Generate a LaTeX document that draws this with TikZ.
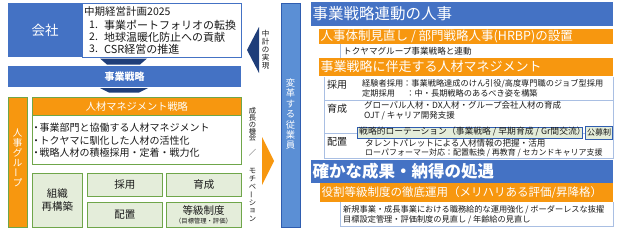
\documentclass[tikz,border=0pt]{standalone}
\usepackage{fontspec}
\setmainfont{Noto Sans CJK JP}
\definecolor{cblue}{HTML}{4472C4}
\definecolor{cblue2}{HTML}{2F5DB0}
\definecolor{clblue}{HTML}{5B8FD5}
\definecolor{cdark}{HTML}{1F3E79}
\definecolor{corange}{HTML}{F7970F}
\definecolor{cgreen}{HTML}{6FA64A}
\definecolor{cgfill}{HTML}{E4EDDA}
\definecolor{ctline}{HTML}{A9BFE3}
\definecolor{ctext}{HTML}{1A1A1A}
\newcommand\fsz[1]{\fontsize{#1}{#1}\selectfont}
\tikzset{
  box/.style={anchor=north west, inner sep=0pt},
  bluebox/.style={box, fill=cblue, text=white},
  greenbox/.style={box, fill=cgfill, draw=cgreen, line width=0.9pt, text=ctext, align=center},
  txt/.style={anchor=west, inner sep=0pt, text=ctext},
  wtxt/.style={anchor=west, inner sep=0pt, text=white},
  tline/.style={draw=ctline, line width=0.7pt}
}
\begin{document}
\begin{tikzpicture}[x=1pt,y=-1pt]
\useasboundingbox (0,0) rectangle (619,244);
% ---------------- left block ----------------
\node[bluebox, minimum width=74pt, minimum height=54pt] (kaisha) at (8,3) {\fsz{13.5}会社};
\node[box, draw=cblue, line width=0.8pt, fill=white, minimum width=159pt, minimum height=54pt] (plan) at (82,3) {};
\node[txt] (plant) at (84,12) {\fsz{10.5}中期経営計画2025};
\node[txt] (p1n) at (89,25) {\fsz{10.5}1.};
\node[txt] (p1) at (104,25) {\fsz{11}事業ポートフォリオの転換};
\node[txt] (p2n) at (89,37) {\fsz{10.5}2.};
\node[txt] (p2) at (104,37) {\fsz{11}地球温暖化防止への貢献};
\node[txt] (p3n) at (89,49) {\fsz{10.5}3.};
\node[txt] (p3) at (104,49) {\fsz{11}CSR経営の推進};
\fill[cdark] (100,58.5) -- (147,58.5) -- (140,64.5) -- (107,64.5) -- cycle;
\node[bluebox, minimum width=233pt, minimum height=21pt] (jigyo) at (8,66) {\fsz{10}\bfseries 事業戦略};
\fill[cdark] (100,88) -- (148,88) -- (139,92.5) -- (109,92.5) -- cycle;
\node[box, fill=corange, draw=cgreen, line width=0.8pt, minimum width=19pt, minimum height=130pt] (hrg) at (8,97) {};
\foreach \c [count=\i] in {人,事,グ,ル,{\rotatebox{90}{ー}},プ}
  \node[text=white, inner sep=0pt, font=\fsz{9.5}] (hg\i) at (17.5,123+\i*10) {\c};
\node[box, fill=corange, draw=cgreen, line width=0.8pt, text=white, minimum width=209pt, minimum height=18pt] (hrm) at (32,97) {\fsz{10.2}人材マネジメント戦略};
\node[box, fill=white, draw=cgreen, line width=0.8pt, minimum width=209pt, minimum height=49pt] (hrmb) at (32,115) {};
\node[txt] (b1) at (31,128) {\fsz{10}・\hspace{-1.5pt}事業部門と協働する人材マネジメント};
\node[txt] (b2) at (31,140.5) {\fsz{10}・\hspace{-1.5pt}トクヤマに馴化した人材の活性化};
\node[txt] (b3) at (31,152.5) {\fsz{10}・\hspace{-1.5pt}戦略人材の積極採用・定着・戦力化};
\node[greenbox, minimum width=50pt, minimum height=54pt] (soshiki) at (32,173) {\fsz{10.5}組織\\[1pt]\fsz{10.5}再構築};
\node[greenbox, minimum width=75pt, minimum height=23pt] (saiyo) at (87,173) {\fsz{10.5}採用};
\node[greenbox, minimum width=75pt, minimum height=25pt] (haichi) at (87,202) {\fsz{10.5}配置};
\node[greenbox, minimum width=75pt, minimum height=23pt] (ikusei) at (166,173) {\fsz{10.5}育成};
\node[greenbox, minimum width=75pt, minimum height=25pt] (tokyu) at (166,202) {};
\node[inner sep=0pt, text=ctext] (tokyut) at (203.5,210.5) {\fsz{10.5}等級制度};
\node[inner sep=0pt, text=ctext] (tokyus) at (203.5,221.5) {\fsz{6.3}（目標管理・評価）};
% ---------------- middle ----------------
\fill[cdark] (259,27) -- (247,50) -- (259,73) -- cycle;
\foreach \c [count=\i] in {中,計,の,実,現}
  \node[inner sep=0pt, text=ctext, font=\fsz{7.5}] (mk\i) at (265.5,26+\i*8) {\c};
\fill[corange] (262,137) -- (274,161) -- (262,185) -- cycle;
\foreach \c/\yy [count=\i] in {成/111,長/117.8,の/124.6,機/131.4,会/138.2,／/153,モ/171,チ/179,ベ/187,{\rotatebox{90}{ー}}/195,シ/203,ョ/211,ン/218.5}
  \node[inner sep=0pt, text=ctext, font=\fsz{7.3}] (sk\i) at (252.5,\yy) {\c};
\node[box, fill=clblue, draw=cblue2, line width=0.6pt, minimum width=19pt, minimum height=224pt] (henkaku) at (281,3) {};
\foreach \c [count=\i] in {変,革,す,る,従,業,員}
  \node[inner sep=0pt, text=white, font=\fsz{9.3}] (hk\i) at (290.5,72.5+\i*10.4) {\c};
% ---------------- right block ----------------
\path[fill=cblue] (311,2) rectangle (613,26);
\node[wtxt] (h1) at (312.5,14) {\fsz{15.5}事業戦略連動の人事};
\path[fill=corange] (319,29) rectangle (613,44);
\node[wtxt] (o1) at (320.5,36.8) {\fsz{12.5}人事体制見直し / 部門戦略人事(HRBP)の設置};
\draw[tline] (340,44) -- (340,58);
\node[txt] (tok) at (343,51.5) {\fsz{8.6}トクヤマグループ事業戦略と連動};
\path[fill=corange] (319,58) rectangle (613,76);
\node[wtxt] (o2) at (320.5,67) {\fsz{13}事業戦略に伴走する人材マネジメント};
\draw[tline] (324,77) -- (324,158) -- (613,158) -- (613,77);
\draw[tline] (324,100.5) -- (613,100.5);
\draw[tline] (324,133) -- (613,133);
\node[txt] (ls) at (327,85) {\fsz{10}採用};
\node[txt] (s1) at (362,84) {\fsz{8.2}経験者採用：事業戦略達成のけん引役/高度専門職のジョブ型採用};
\node[txt] (s2) at (362,93.5) {\fsz{8.2}\makebox[5.4em][l]{定期採用}：中・長期戦略のあるべき姿を構築};
\node[txt] (li) at (327,109) {\fsz{10}育成};
\node[txt] (i1) at (364,105) {\fsz{8.5}グローバル人材・DX人材・グループ会社人材の育成};
\node[txt] (i2) at (364,116) {\fsz{8.5}OJT / キャリア開発支援};
\node[box, fill=cgfill, draw=cblue2, line width=1pt, minimum width=225pt, minimum height=11pt] (rot) at (357,126.5) {};
\node[txt] (rott) at (359,132) {\fsz{8.8}戦略的ローテーション（事業戦略 / 早期育成 / Gr間交流）};
\node[box, fill=cgfill, draw=cblue2, line width=1pt, minimum width=27pt, minimum height=13pt, text=ctext] (kobo) at (585,125.5) {\fsz{8}公募制};
\node[txt] (lh) at (327,142) {\fsz{10}配置};
\node[txt] (h1t) at (365,143) {\fsz{8.6}タレントパレットによる人材情報の把握・活用};
\node[txt] (h2t) at (365,153) {\fsz{8}ローパフォーマー対応：配置転換 / 再教育 / セカンドキャリア支援};
\path[fill=cblue] (311,160) rectangle (613,183);
\node[wtxt] (h2) at (312.5,171.5) {\fsz{16.5}\bfseries 確かな成果・納得の処遇};
\path[fill=corange] (320,183) rectangle (613,202);
\node[wtxt] (o3) at (321.5,192.5) {\fsz{11.5}役割等級制度の徹底運用（メリハリある評価/昇降格）};
\draw[tline] (340,202) -- (340,226) -- (613,226) -- (613,202);
\node[txt] (e1) at (343,210) {\fsz{8.2}新規事業・成長事業における職務給的な運用強化 / ボーダーレスな抜擢};
\node[txt] (e2) at (343,220) {\fsz{8.2}目標設定管理・評価制度の見直し / 年齢給の見直し};
\end{tikzpicture}
\end{document}
